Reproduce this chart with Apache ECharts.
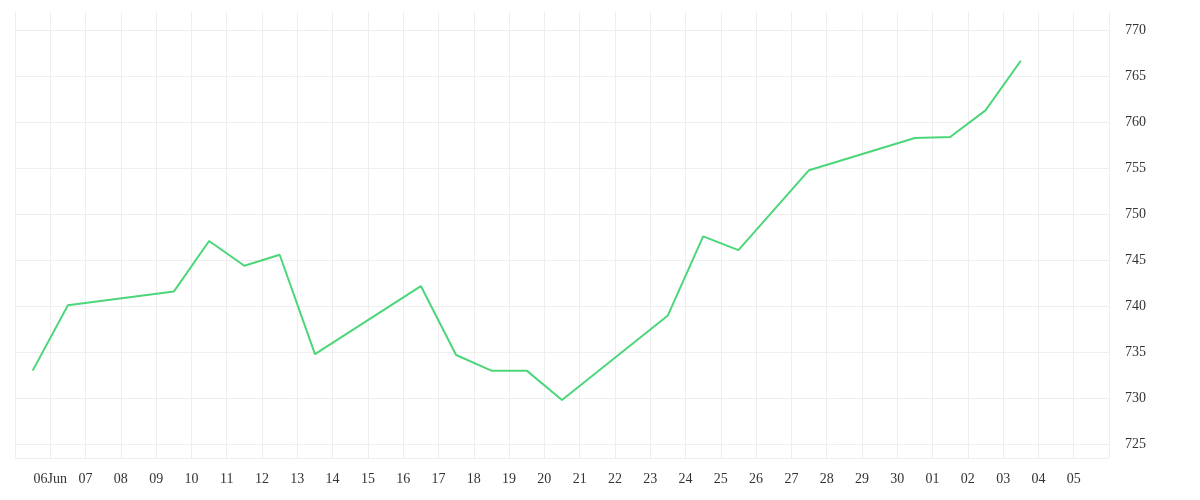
<!DOCTYPE html>
<html><head><meta charset="utf-8">
<script src="https://cdn.jsdelivr.net/npm/echarts@6/dist/echarts.min.js"></script>
<style>html,body{margin:0;padding:0;background:#fff}#c{width:1200px;height:500px}</style>
</head><body><div id="c"></div>
<script>
const tickLabels = ['', '06Jun','07','08','09','10','11','12','13','14','15','16','17','18','19','20','21','22','23','24','25','26','27','28','29','30','01','02','03','04','05',''];
const yTicks = [725,730,735,740,745,750,755,760,765,770];
const pointPos = [0.5,1.5,4.5,5.5,6.5,7.5,8.5,11.5,12.5,13.5,14.5,15.5,18.5,19.5,20.5,22.5,25.5,26.5,27.5,28.5];
const values = [733.0,740.1,741.6,747.1,744.4,745.6,734.8,742.2,734.7,733.0,733.0,729.8,739.0,747.6,746.1,754.8,758.3,758.4,761.3,766.7];
const chart = echarts.init(document.getElementById('c'));
const font = 'Liberation Serif';
chart.setOption({
  animation:false,
  grid:{left:15,right:91,top:12,bottom:42},
  xAxis:{type:'value',min:0,max:31,interval:1,
    axisLine:{show:false},axisTick:{show:false},
    splitLine:{show:true,lineStyle:{color:'#eeeeee'}},
    axisLabel:{color:'#333',fontFamily:font,fontSize:14,margin:14,formatter:v=>tickLabels[v]||''}},
  yAxis:{type:'value',position:'right',min:723.5,max:772,
    axisLine:{show:false},axisTick:{show:false,customValues:yTicks.concat([723.5])},
    splitLine:{show:true,lineStyle:{color:'#eeeeee'}},
    axisLabel:{color:'#333',fontFamily:font,fontSize:14,margin:16,customValues:yTicks}},
  series:[{type:'line',data:pointPos.map((p,i)=>[p,values[i]]),showSymbol:false,
    lineStyle:{color:'#4cd67a',width:2},itemStyle:{color:'#4cd67a'}}]
});
</script></body></html>
